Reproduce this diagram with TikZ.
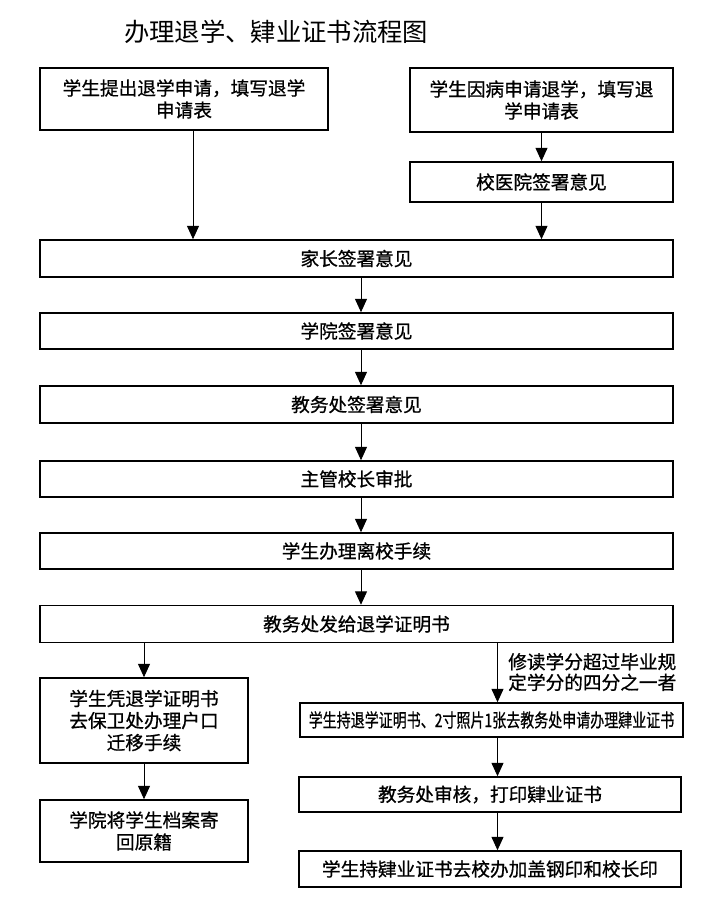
\documentclass[tikz,border=0pt]{standalone}
\usepackage{fontspec}
\setmainfont{Noto Sans CJK SC}
\newfontfamily\heavyhei{Noto Sans CJK SC}[FakeBold=0.8]
\usetikzlibrary{arrows.meta}
\tikzstyle{flowbox}=[draw,line width=1.2pt,align=center,inner sep=0pt,font=\heavyhei\fontsize{14}{16.5}\selectfont]
\tikzstyle{flowarrow}=[-{Triangle[width=9pt,length=10pt]},line width=0.7pt]

\begin{document}
\begin{tikzpicture}[x=0.75pt,y=-0.75pt]
	\useasboundingbox (0,0) rectangle (700,899);
	\node[font=\fontsize{19}{22}\selectfont] (title) at (276,32) {办理退学、肄业证书流程图};
	% two ways in
	\node[flowbox,minimum width=288*0.75pt,minimum height=62*0.75pt] (apply) at (184,99) {学生提出退学申请，填写退学\\申请表};
	\node[flowbox,minimum width=263*0.75pt,minimum height=64*0.75pt] (sick) at (541.5,100) {学生因病申请退学，填写退\\学申请表};
	\node[flowbox,minimum width=263*0.75pt,minimum height=40*0.75pt] (hosp) at (541.5,182) {校医院签署意见};
	% main column
	\node[flowbox,minimum width=633*0.75pt,minimum height=37*0.75pt] (parent) at (356.5,258.5) {家长签署意见};
	\node[flowbox,minimum width=633*0.75pt,minimum height=36*0.75pt] (college) at (356.5,331) {学院签署意见};
	\node[flowbox,minimum width=633*0.75pt,minimum height=37*0.75pt] (office) at (356.5,404.5) {教务处签署意见};
	\node[flowbox,minimum width=633*0.75pt,minimum height=36*0.75pt] (head) at (356.5,479) {主管校长审批};
	\node[flowbox,minimum width=633*0.75pt,minimum height=36*0.75pt] (leave) at (356.5,551) {学生办理离校手续};
	\node[flowbox,minimum width=633*0.75pt,minimum height=37*0.75pt] (cert) at (356.5,624) {教务处发给退学证明书};
	% left branch
	\node[flowbox,minimum width=208*0.75pt,minimum height=85*0.75pt] (hukou) at (144,720.5) {学生凭退学证明书\\去保卫处办理户口\\迁移手续};
	\node[flowbox,minimum width=208*0.75pt,minimum height=62*0.75pt] (archive) at (144,831) {学院将学生档案寄\\回原籍};
	% right branch
	\node[flowbox,minimum width=383*0.75pt,minimum height=34*0.75pt] (jieye) at (491.5,720) {\scalebox{0.75}[1]{学生持退学证明书、2寸照片1张去教务处申请办理肄业证书}};
	\node[flowbox,minimum width=382*0.75pt,minimum height=35*0.75pt] (check) at (490,794.5) {教务处审核，打印肄业证书};
	\node[flowbox,minimum width=382*0.75pt,minimum height=36*0.75pt] (stamp) at (490,869) {学生持肄业证书去校办加盖钢印和校长印};
	\node[anchor=west,align=left,inner sep=0pt,font=\heavyhei\fontsize{14}{15.5}\selectfont] (rule) at (508,672) {修读学分超过毕业规\\定学分的四分之一者};

	\coordinate (lx) at (193,0);
	\coordinate (mx) at (361,0);
	\coordinate (rx) at (497.5,0);
	\draw[flowarrow] (apply.south -| lx) -- (parent.north -| lx);
	\draw[flowarrow] (sick) -- (hosp);
	\draw[flowarrow] (hosp) -- (parent.north -| hosp.south);
	\foreach \a/\b in {parent/college,college/office,office/head,head/leave,leave/cert}
		\draw[flowarrow] (\a.south -| mx) -- (\b.north -| mx);
	\draw[flowarrow] (cert.south -| hukou.north) -- (hukou);
	\draw[flowarrow] (hukou) -- (archive);
	\draw[flowarrow] (cert.south -| rx) -- (jieye.north -| rx);
	\draw[flowarrow] (jieye.south -| rx) -- (check.north -| rx);
	\draw[flowarrow] (check.south -| rx) -- (stamp.north -| rx);
\end{tikzpicture}
\end{document}
